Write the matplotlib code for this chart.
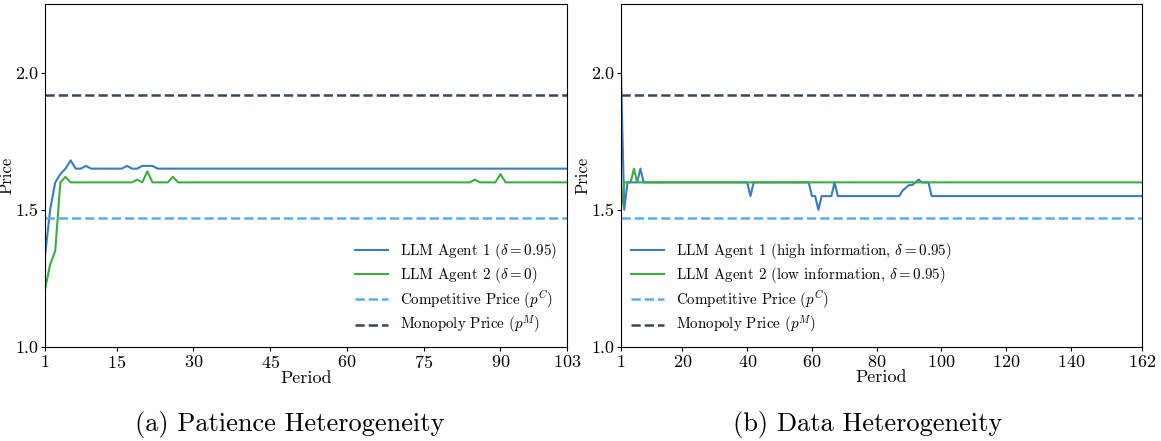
import matplotlib
matplotlib.use("Agg")
import matplotlib.pyplot as plt

plt.rcParams['font.family'] = 'cmr10'
plt.rcParams['mathtext.fontset'] = 'cm'
plt.rcParams['axes.formatter.use_mathtext'] = True
plt.rcParams['axes.unicode_minus'] = False

# Panel (a): patience heterogeneity
periods_a = list(range(1, 104))
agent1_a = ([1.33, 1.50, 1.60, 1.63, 1.65, 1.68, 1.65, 1.65, 1.66]
            + [1.65] * 7 + [1.66] + [1.65] * 2 + [1.66] * 3 + [1.65] * 81)
agent2_a = ([1.21, 1.30, 1.35, 1.60, 1.62]
            + [1.60] * 13 + [1.61] + [1.60] + [1.64] + [1.60] * 4 + [1.62]
            + [1.60] * 58 + [1.61] + [1.60] * 4 + [1.63] + [1.60] * 13)
xticks_a = [1, 15, 30, 45, 60, 75, 90, 103]

# Panel (b): data heterogeneity
periods_b = list(range(1, 163))
agent1_b = ([2.00, 1.50] + [1.60] * 4 + [1.65] + [1.60] * 33 + [1.55]
            + [1.60] * 18 + [1.55] * 2 + [1.50] + [1.55] * 4 + [1.60]
            + [1.55] * 20
            + [1.57, 1.58, 1.59, 1.59, 1.60, 1.61, 1.60, 1.60, 1.60]
            + [1.55] * 66)
agent2_b = [1.50] + [1.60] * 3 + [1.65] + [1.60] * 157
xticks_b = [1, 20, 40, 60, 80, 100, 120, 140, 162]

competitive_price = 1.47
monopoly_price = 1.92

c_agent1 = '#3a7dbe'
c_agent2 = '#3cac44'
c_comp = '#5aaee6'
c_mono = '#34495e'

fig = plt.figure(figsize=(11.61, 4.41), dpi=100)
ax1 = fig.add_axes([45 / 1161, 94 / 441, 522 / 1161, 343 / 441])
ax2 = fig.add_axes([621 / 1161, 94 / 441, 521 / 1161, 343 / 441])

panels = [
    (ax1, periods_a, agent1_a, agent2_a, xticks_a,
     [r'LLM Agent 1 ($\delta = 0.95$)', r'LLM Agent 2 ($\delta = 0$)'], 'lower right'),
    (ax2, periods_b, agent1_b, agent2_b, xticks_b,
     [r'LLM Agent 1 (high information, $\delta = 0.95$)',
      r'LLM Agent 2 (low information, $\delta = 0.95$)'], 'lower left'),
]

for ax, x, y1, y2, ticks, labels, loc in panels:
    ax.plot(x, y1, color=c_agent1, lw=1.5, label=labels[0])
    ax.plot(x, y2, color=c_agent2, lw=1.5, label=labels[1])
    ax.axhline(competitive_price, color=c_comp, ls='--', lw=1.8,
               label=r'Competitive Price ($p^C$)')
    ax.axhline(monopoly_price, color=c_mono, ls='--', lw=1.8,
               label=r'Monopoly Price ($p^M$)')
    ax.set_xlim(x[0], x[-1])
    ax.set_ylim(1.0, 2.25)
    ax.set_xticks(ticks)
    ax.set_yticks([1.0, 1.5, 2.0])
    ax.set_yticklabels(['1.0', '1.5', '2.0'])
    ax.tick_params(labelsize=13, length=3, pad=2)
    ax.set_xlabel('Period', fontsize=13, labelpad=0)
    ax.set_ylabel('Price', fontsize=12, labelpad=0)
    ax.legend(loc=loc, frameon=False, fontsize=10.8, handlelength=2.2,
              borderaxespad=0.3, labelspacing=0.25)

fig.text(290 / 1161, 1 - 424 / 441, '(a) Patience Heterogeneity',
         ha='center', va='center', fontsize=19)
fig.text(868 / 1161, 1 - 424 / 441, '(b) Data Heterogeneity',
         ha='center', va='center', fontsize=19)

fig.savefig('out.png', dpi=100)
